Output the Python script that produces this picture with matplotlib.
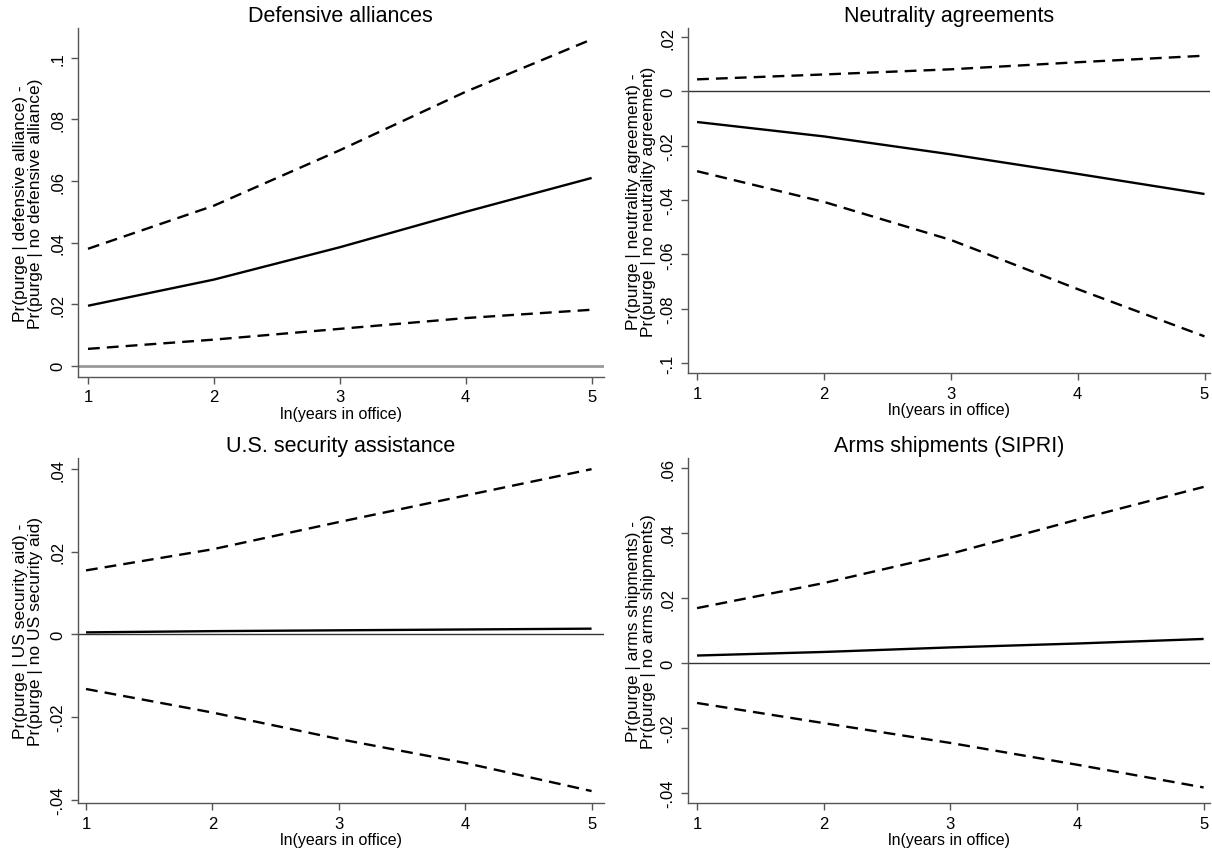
import numpy as np
import matplotlib.pyplot as plt

plt.rcParams['font.family'] = ['Liberation Sans', 'DejaVu Sans']

x = [1, 2, 3, 4, 5]

# Defensive alliances
def_est = [0.0195, 0.028, 0.0385, 0.050, 0.061]
def_hi = [0.038, 0.052, 0.070, 0.089, 0.106]
def_lo = [0.0055, 0.0085, 0.012, 0.0155, 0.0182]

# Neutrality agreements
neu_est = [-0.0113, -0.0166, -0.0232, -0.0304, -0.0378]
neu_hi = [0.0044, 0.0062, 0.0081, 0.0107, 0.0131]
neu_lo = [-0.0294, -0.0407, -0.0547, -0.0728, -0.0902]

# U.S. security assistance
us_est = [0.0005, 0.0008, 0.0010, 0.0012, 0.0014]
us_hi = [0.0155, 0.0206, 0.0272, 0.0336, 0.0400]
us_lo = [-0.0132, -0.0189, -0.0253, -0.0311, -0.0379]

# Arms shipments (SIPRI)
arms_est = [0.0023, 0.0034, 0.0048, 0.0060, 0.0074]
arms_hi = [0.0169, 0.0246, 0.0336, 0.0441, 0.0542]
arms_lo = [-0.0123, -0.0185, -0.0246, -0.0313, -0.0383]

titles = ["Defensive alliances", "Neutrality agreements",
          "U.S. security assistance", "Arms shipments (SIPRI)"]
ylabels = ["Pr(purge | defensive alliance) -\nPr(purge | no defensive alliance)",
           "Pr(purge | neutrality agreement) -\nPr(purge | no neutrality agreement)",
           "Pr(purge | US security aid) -\nPr(purge | no US security aid)",
           "Pr(purge | arms shipments) -\nPr(purge | no arms shipments)"]
yticks = [[0, 0.02, 0.04, 0.06, 0.08, 0.1],
          [-0.1, -0.08, -0.06, -0.04, -0.02, 0, 0.02],
          [-0.04, -0.02, 0, 0.02, 0.04],
          [-0.04, -0.02, 0, 0.02, 0.04, 0.06]]


def stata_fmt(v):
    if abs(v) < 1e-12:
        return "0"
    s = "{:g}".format(v)
    return s.replace("0.", ".")


fig = plt.figure(figsize=(12.12, 8.53), dpi=100)

boxes = [[0.0644, 0.557, 0.4336, 0.409],
         [0.5677, 0.5615, 0.4303, 0.4045],
         [0.0644, 0.0574, 0.4336, 0.4045],
         [0.5677, 0.0574, 0.4303, 0.4045]]
xlims = [(0.921, 5.095), (0.929, 5.04), (0.937, 5.095), (0.929, 5.047)]
ylims = [(-0.0036, 0.1097), (-0.1037, 0.0233), (-0.0408, 0.0427), (-0.0431, 0.0631)]
label_x = [-0.067, -0.061, -0.067, -0.061]
data = [(def_est, def_hi, def_lo), (neu_est, neu_hi, neu_lo),
        (us_est, us_hi, us_lo), (arms_est, arms_hi, arms_lo)]

for i in range(4):
    ax = fig.add_axes(boxes[i])
    est, hi, lo = data[i]

    if i == 0:
        ax.axhline(0, color='#999999', lw=2.0, zorder=1)
    else:
        ax.axhline(0, color='#333333', lw=1.0, zorder=1)

    ax.plot(x, est, color='black', lw=1.7, solid_capstyle='butt')
    ax.plot(x, hi, color='black', lw=1.7, dashes=(5, 3))
    ax.plot(x, lo, color='black', lw=1.7, dashes=(5, 3))

    ax.set_xlim(*xlims[i])
    ax.set_ylim(*ylims[i])
    ax.set_xticks(x)
    ax.set_yticks(yticks[i])
    ax.set_yticklabels([stata_fmt(v) for v in yticks[i]], rotation=90, va='center')

    for side in ['top', 'right']:
        ax.spines[side].set_visible(False)
    for side in ['left', 'bottom']:
        ax.spines[side].set_color('#555555')
        ax.spines[side].set_linewidth(1.0)
    ax.tick_params(colors='#555555', labelcolor='black', labelsize=12,
                   length=5, width=1.0, pad=4)

    ax.set_title(titles[i], fontsize=15.5, pad=5)
    ax.set_xlabel("ln(years in office)", fontsize=11.5, labelpad=1)
    ax.set_ylabel(ylabels[i], fontsize=12.5, linespacing=1.0)
    ax.yaxis.set_label_coords(label_x[i], 0.5)

fig.savefig("out.png", dpi=100, facecolor='white')
